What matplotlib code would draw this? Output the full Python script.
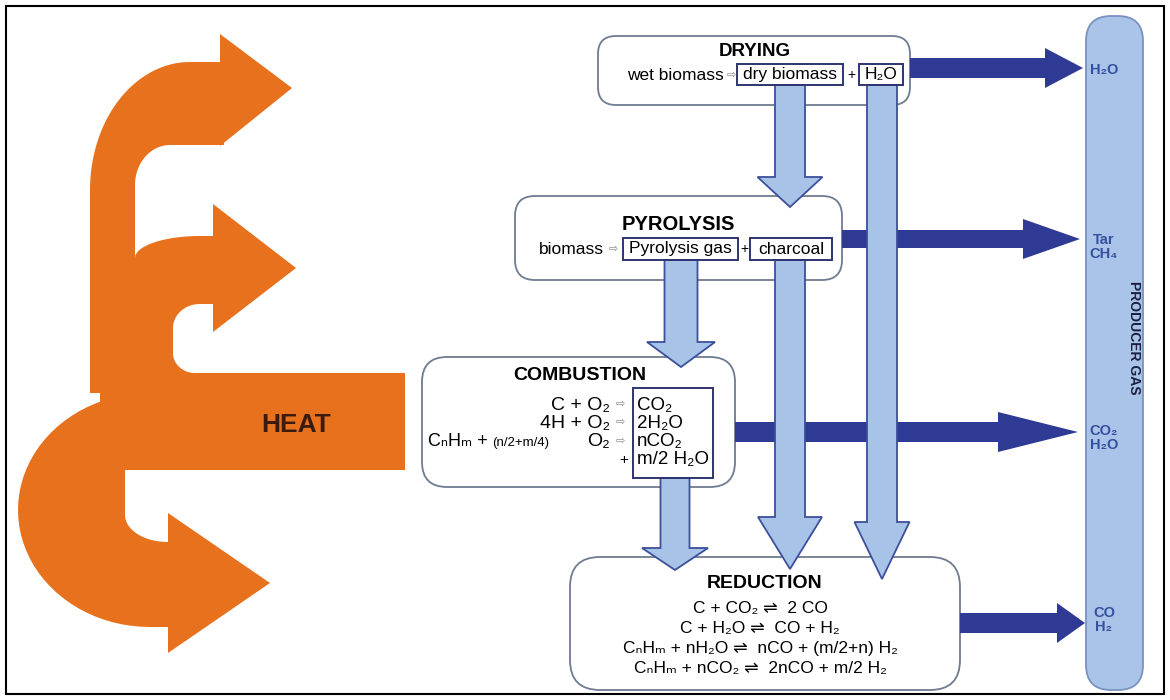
import matplotlib.pyplot as plt
import numpy as np
from matplotlib.patches import Polygon, Rectangle, FancyBboxPatch

plt.rcParams['font.family'] = ['Liberation Sans', 'DejaVu Sans']

# text content of the diagram
stage_names = ["DRYING", "PYROLYSIS", "COMBUSTION", "REDUCTION"]
drying_terms = ["wet biomass", "dry biomass", "H₂O"]
pyrolysis_terms = ["biomass", "Pyrolysis gas", "charcoal"]
combustion_left = ["C + O₂", "4H + O₂", "O₂", "+"]
combustion_right = ["CO₂", "2H₂O", "nCO₂", "m/2 H₂O"]
combustion_line3 = ["CₙHₘ +", "(n/2+m/4)"]
reduction_eqs = ["C + CO₂ ⇌  2 CO",
                 "C + H₂O ⇌  CO + H₂",
                 "CₙHₘ + nH₂O ⇌  nCO + (m/2+n) H₂",
                 "CₙHₘ + nCO₂ ⇌  2nCO + m/2 H₂"]
gas_labels = ["H₂O", "Tar\nCH₄", "CO₂\nH₂O", "CO\nH₂"]
gas_title = "PRODUCER GAS"
heat_label = "HEAT"

ORANGE = '#E8711E'
LIGHT = '#A8C3E8'
LIGHT_EDGE = '#3C4F9A'
DARK = '#2E3A94'
BOX_EDGE = '#6E7B90'
INNER_EDGE = '#2E3470'
GAS_TEXT = '#34509F'
GLYPH = '#8A8A8A'


def arc(cx, cy, rx, ry, a0, a1, n=40):
    t = np.radians(np.linspace(a0, a1, n))
    return [(cx + rx * np.cos(a), cy + ry * np.sin(a)) for a in t]


def down_arrow(ax, xc, sw, y0, yh, hw, ytip):
    pts = [(xc - sw / 2, y0), (xc + sw / 2, y0), (xc + sw / 2, yh), (xc + hw / 2, yh),
           (xc, ytip), (xc - hw / 2, yh), (xc - sw / 2, yh)]
    ax.add_patch(Polygon(pts, closed=True, facecolor=LIGHT, edgecolor=LIGHT_EDGE, lw=1.3, zorder=4))


def right_arrow(ax, yc, sh, x0, xh, hh, xtip):
    pts = [(x0, yc - sh / 2), (xh, yc - sh / 2), (xh, yc - hh / 2), (xtip, yc),
           (xh, yc + hh / 2), (xh, yc + sh / 2), (x0, yc + sh / 2)]
    ax.add_patch(Polygon(pts, closed=True, facecolor=DARK, edgecolor='none', zorder=3))


def rbox(ax, x0, y0, x1, y1, r, fc='white', ec=BOX_EDGE, lw=1.3, z=2):
    ax.add_patch(FancyBboxPatch((x0, y0), x1 - x0, y1 - y0,
                                boxstyle=f"round,pad=0,rounding_size={r}",
                                facecolor=fc, edgecolor=ec, lw=lw, zorder=z))


def ibox(ax, x0, y0, x1, y1):
    ax.add_patch(Rectangle((x0, y0), x1 - x0, y1 - y0, facecolor='none',
                           edgecolor=INNER_EDGE, lw=1.4, zorder=5))


fig = plt.figure(figsize=(11.7, 7), dpi=100)
ax = fig.add_axes([0, 0, 1, 1])
ax.set_xlim(0, 1170)
ax.set_ylim(700, 0)
ax.axis('off')

# outer frame
ax.add_patch(Rectangle((6, 6), 1158, 688, facecolor='none', edgecolor='black', lw=1.5, zorder=10))

# ---- HEAT shape (union of orange pieces) ----
heat_parts = [
    # top arrow
    [(220, 34), (292, 88), (220, 146)],
    [(224, 62)] + arc(190, 190, 100, 128, 270, 180) + [(90, 393), (135, 393), (135, 185)]
    + arc(170, 185, 35, 40, 180, 270) + [(224, 145)],
    # middle arrow
    [(213, 204), (296, 268), (213, 332)],
    [(216, 236)] + arc(200, 258, 65, 22, 270, 180) + [(135, 400), (215, 400), (215, 373)]
    + arc(195, 353, 22, 20, 90, 180) + arc(200, 328, 27, 24, 180, 270) + [(216, 304)],
    # HEAT bar
    [(100, 373), (405, 373), (405, 470), (100, 470)],
    # bottom arrow
    arc(150, 510, 132, 117, 250, 90) + [(172, 627), (172, 542)]
    + arc(168, 515, 43, 27, 90, 180) + [(125, 440)],
    [(168, 513), (270, 583), (168, 653)],
]
for p in heat_parts:
    ax.add_patch(Polygon(p, closed=True, facecolor=ORANGE, edgecolor='none', zorder=1))
ax.text(296, 425, heat_label, fontsize=19, fontweight='bold', color='#3A1B0E',
        ha='center', va='center', zorder=6)

# ---- producer gas column ----
rbox(ax, 1086, 16, 1143, 690, 25, fc='#A9C4E8', ec='#7A92C0', lw=1.3, z=2)
ax.text(1134, 338, gas_title, rotation=-90, fontsize=10, fontweight='bold',
        color='#1C2040', ha='center', va='center', zorder=6)
for lab, y in zip(gas_labels, [70, 247, 438, 620]):
    ax.text(1104, y, lab, fontsize=10.5, fontweight='bold', color=GAS_TEXT,
            ha='center', va='center', linespacing=0.95, zorder=6)

# ---- process boxes ----
rbox(ax, 598, 36, 910, 105, 18)
rbox(ax, 515, 196, 842, 280, 20)
rbox(ax, 422, 357, 735, 487, 25)
rbox(ax, 570, 557, 960, 690, 30)

# dark outlet arrows to producer gas
right_arrow(ax, 68, 20, 910, 1045, 40, 1083)
right_arrow(ax, 239, 18, 842, 1023, 40, 1080)
right_arrow(ax, 432, 20, 735, 998, 40, 1078)
right_arrow(ax, 623, 20, 960, 1057, 40, 1085)

# light blue flow arrows
down_arrow(ax, 790, 30, 85, 177, 65, 207)
down_arrow(ax, 882, 30, 85, 522, 55, 579)
down_arrow(ax, 790, 30, 260, 517, 64, 569)
down_arrow(ax, 681, 33, 260, 342, 68, 367)
down_arrow(ax, 675, 29, 478, 548, 66, 570)

# DRYING
ax.text(755, 52, stage_names[0], fontsize=13.5, fontweight='bold', ha='center', va='center', zorder=6)
ax.text(724, 76, drying_terms[0], fontsize=12.5, ha='right', va='center', zorder=6)
ax.text(731, 75, "⇨", fontsize=8, color=GLYPH, ha='center', va='center', zorder=6)
ibox(ax, 737, 64, 843, 85)
ax.text(790, 75, drying_terms[1], fontsize=12.5, ha='center', va='center', zorder=6)
ax.text(851, 75, "+", fontsize=10, ha='center', va='center', zorder=6)
ibox(ax, 859, 64, 903, 85)
ax.text(881, 75, drying_terms[2], fontsize=12.5, ha='center', va='center', zorder=6)

# PYROLYSIS
ax.text(678, 225, stage_names[1], fontsize=14.5, fontweight='bold', ha='center', va='center', zorder=6)
ax.text(604, 250, pyrolysis_terms[0], fontsize=12.5, ha='right', va='center', zorder=6)
ax.text(613, 249, "⇨", fontsize=8, color=GLYPH, ha='center', va='center', zorder=6)
ibox(ax, 623, 238, 738, 260)
ax.text(680, 249, pyrolysis_terms[1], fontsize=12.5, ha='center', va='center', zorder=6)
ax.text(744, 249, "+", fontsize=10, ha='center', va='center', zorder=6)
ibox(ax, 750, 238, 832, 260)
ax.text(791, 249, pyrolysis_terms[2], fontsize=12.5, ha='center', va='center', zorder=6)

# COMBUSTION
ax.text(580, 375, stage_names[2], fontsize=14, fontweight='bold', ha='center', va='center', zorder=6)
ibox(ax, 633, 388, 713, 478)
for i, (lt, rt, y) in enumerate(zip(combustion_left, combustion_right, [405, 423, 442, 460])):
    if i < 3:
        ax.text(610, y, lt, fontsize=14, ha='right', va='center', zorder=6)
        ax.text(620, y - 1, "⇨", fontsize=8, color=GLYPH, ha='center', va='center', zorder=6)
    else:
        ax.text(624, y, lt, fontsize=11, ha='center', va='center', zorder=6)
    ax.text(637, y, rt, fontsize=13.5, ha='left', va='center', zorder=6)
ax.text(428, 442, combustion_line3[0], fontsize=13, ha='left', va='center', zorder=6)
ax.text(492, 443, combustion_line3[1], fontsize=9.5, ha='left', va='center', zorder=6)

# REDUCTION
ax.text(765, 584, stage_names[3], fontsize=14, fontweight='bold', ha='center', va='center', zorder=6)
for eq, y in zip(reduction_eqs, [608, 629, 649, 668]):
    ax.text(760, y, eq, fontsize=12.5, ha='center', va='center', zorder=6)

fig.savefig('out.png', dpi=100)
